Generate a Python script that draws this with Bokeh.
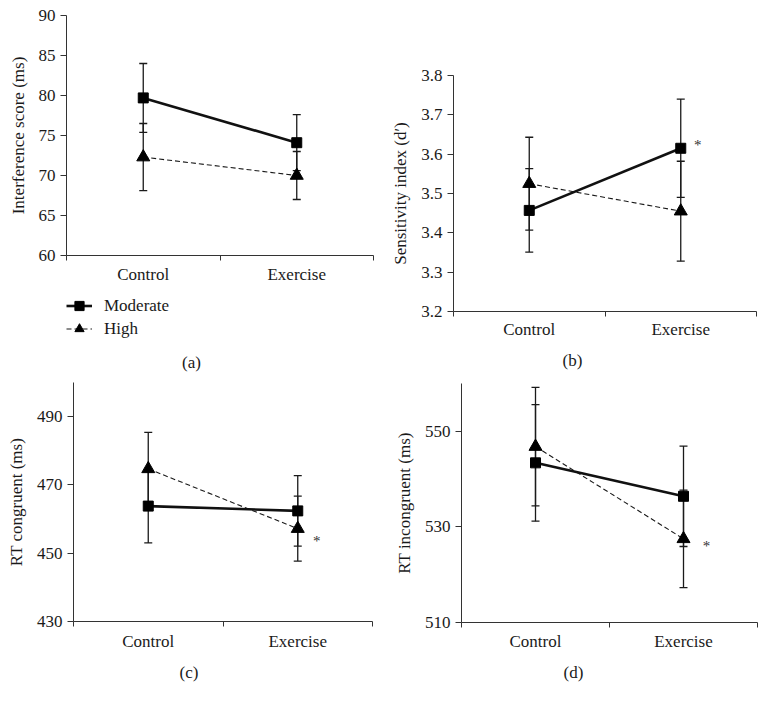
from bokeh.plotting import figure
from bokeh.layouts import row, column
from bokeh.models import (ColumnDataSource, Whisker, TeeHead, FixedTicker, Range1d,
                          Legend, LegendItem, Title, Label)
from bokeh.core.properties import value
from bokeh.embed import file_html
from bokeh.resources import INLINE

FONT = "Liberation Serif"
INK = "#1a1a1a"
NAN = float("nan")

categories = ["Control", "Exercise"]
series_names = ["Moderate", "High"]

# (a) Interference score (ms)
a_moderate = [79.7, 74.1]
a_moderate_err = [4.3, 3.5]
a_high = [72.3, 70.0]
a_high_err = [4.2, 3.0]
a_ticks = [60, 65, 70, 75, 80, 85, 90]

# (b) Sensitivity index (d')
b_moderate = [3.457, 3.615]
b_moderate_err = [0.106, 0.125]
b_high = [3.525, 3.455]
b_high_err = [0.118, 0.127]
b_ticks = [3.2, 3.3, 3.4, 3.5, 3.6, 3.7, 3.8]

# (c) RT congruent (ms)
c_moderate = [463.8, 462.4]
c_moderate_err = [10.8, 10.3]
c_high = [474.7, 457.2]
c_high_err = [10.7, 9.5]
c_ticks = [430, 450, 470, 490]

# (d) RT incongruent (ms)
d_moderate = [543.4, 536.4]
d_moderate_err = [12.2, 10.5]
d_high = [546.8, 527.5]
d_high_err = [12.4, 10.2]
d_ticks = [510, 530, 550]

MOD_STYLE = dict(line_color="#111111", line_width=2.6)
HIGH_STYLE = dict(line_color=INK, line_width=1.1, line_dash="5 3")


def make_panel(width, height, borders, yrange, yticks, ylabel, moderate, mod_err,
               high, high_err, caption=None, star=None, tick_fmt=None,
               caption_offset=0, caption_standoff=6, xlabel_standoff=5):
    left, right, top, bottom = borders
    p = figure(width=width, height=height, output_backend="svg", toolbar_location=None,
               x_range=Range1d(0, len(categories)), y_range=Range1d(*yrange),
               min_border_left=left, min_border_right=right, min_border_top=top,
               min_border_bottom=bottom)
    p.outline_line_color = None
    p.xgrid.visible = False
    p.ygrid.visible = False
    p.background_fill_color = "white"
    p.border_fill_color = "white"

    xs = [i + 0.5 for i in range(len(categories))]

    p.xaxis.ticker = FixedTicker(ticks=xs, minor_ticks=list(range(len(categories) + 1)))
    p.xaxis.major_label_overrides = {x: c for x, c in zip(xs, categories)}
    p.xaxis.major_tick_out = 0
    p.xaxis.major_tick_in = 0
    p.xaxis.minor_tick_out = 5
    p.xaxis.minor_tick_in = 0
    p.xaxis.major_label_standoff = xlabel_standoff
    p.yaxis.ticker = FixedTicker(ticks=yticks)
    if tick_fmt:
        p.yaxis.major_label_overrides = {t: tick_fmt.format(t) for t in yticks}
    p.yaxis.major_tick_out = 6
    p.yaxis.major_tick_in = 0
    p.yaxis.minor_tick_out = 0
    p.yaxis.major_label_standoff = 5
    p.yaxis.axis_label = ylabel
    p.yaxis.axis_label_standoff = 8
    for ax in (p.xaxis, p.yaxis):
        ax.axis_line_color = "#333333"
        ax.major_tick_line_color = "#333333"
        ax.minor_tick_line_color = "#333333"
        ax.major_label_text_font = FONT
        ax.major_label_text_font_size = "17px"
        ax.major_label_text_color = INK
        ax.axis_label_text_font = FONT
        ax.axis_label_text_font_size = "17px"
        ax.axis_label_text_font_style = "normal"
        ax.axis_label_text_color = INK

    src_m = ColumnDataSource(dict(x=xs, y=moderate,
                                  lo=[v - e for v, e in zip(moderate, mod_err)],
                                  hi=[v + e for v, e in zip(moderate, mod_err)]))
    src_h = ColumnDataSource(dict(x=xs, y=high,
                                  lo=[v - e for v, e in zip(high, high_err)],
                                  hi=[v + e for v, e in zip(high, high_err)]))
    for src in (src_m, src_h):
        w = Whisker(base="x", upper="hi", lower="lo", source=src,
                    line_color=INK, line_width=1.3,
                    upper_head=TeeHead(size=8, line_width=1.3, line_color=INK),
                    lower_head=TeeHead(size=8, line_width=1.3, line_color=INK))
        p.add_layout(w)

    p.line("x", "y", source=src_h, **HIGH_STYLE)
    p.scatter("x", "y", source=src_h, marker="triangle", size=13,
              fill_color="black", line_color="black")
    p.line("x", "y", source=src_m, **MOD_STYLE)
    p.scatter("x", "y", source=src_m, marker="square", size=10,
              fill_color="black", line_color="black")

    if star is not None:
        sx, sy, xo, yo = star
        p.text(x=[sx], y=[sy], text=["*"], x_offset=xo, y_offset=yo,
               text_font=value(FONT), text_font_size="15px", text_color="#333333",
               text_align="center", text_baseline="middle")

    if caption is not None:
        t = Title(text=caption, align="left", offset=caption_offset,
                  text_font=FONT, text_font_size="17px", text_font_style="normal",
                  text_color=INK, standoff=caption_standoff)
        p.add_layout(t, "below")
    return p


def make_legend_panel(width, height, legend_xy, caption, caption_xy):
    p = figure(width=width, height=height, output_backend="svg", toolbar_location=None,
               x_range=Range1d(0, 1), y_range=Range1d(0, 1),
               x_axis_location=None, y_axis_location=None, min_border=0)
    p.outline_line_color = None
    p.grid.visible = False
    p.background_fill_color = "white"
    p.border_fill_color = "white"
    # legend-only renderers (no visible data)
    lm = p.line(x=[NAN], y=[NAN], **MOD_STYLE)
    sm = p.scatter(x=[NAN], y=[NAN], marker="square", size=10, fill_color="black",
                   line_color="black")
    lh = p.line(x=[NAN], y=[NAN], **HIGH_STYLE)
    sh = p.scatter(x=[NAN], y=[NAN], marker="triangle", size=13, fill_color="black",
                   line_color="black")
    legend = Legend(items=[LegendItem(label=series_names[0], renderers=[lm, sm]),
                           LegendItem(label=series_names[1], renderers=[lh, sh])],
                    location=legend_xy, orientation="vertical",
                    border_line_color=None, background_fill_alpha=0,
                    padding=0, margin=0, spacing=0, glyph_width=26,
                    glyph_height=23, label_height=23, label_standoff=12,
                    label_text_font=FONT, label_text_font_size="17px",
                    label_text_color=INK)
    p.add_layout(legend)
    p.add_layout(Label(x=caption_xy[0], y=caption_xy[1], x_units="screen",
                       y_units="screen", text=caption, text_font=FONT,
                       text_font_size="17px", text_color=INK,
                       text_align="center", text_baseline="middle"))
    return p


pa = make_panel(380, 292, (66, 7, 15, 37), (60, 90), a_ticks, "Interference score (ms)",
                a_moderate, a_moderate_err, a_high, a_high_err, xlabel_standoff=4)
pl = make_legend_panel(380, 82, (66, 34), "(a)", (191, 12))
pb = make_panel(387, 378, (73, 11, 75, 67), (3.2, 3.8), b_ticks, "Sensitivity index (d\u2032)",
                b_moderate, b_moderate_err, b_high, b_high_err, "(b)",
                star=(1.5, b_moderate[1], 17, -3), tick_fmt="{:.1f}",
                caption_offset=109, caption_standoff=14, xlabel_standoff=3)
pc = make_panel(380, 331, (73, 8, 8, 84), (430, 500), c_ticks, "RT congruent (ms)",
                c_moderate, c_moderate_err, c_high, c_high_err, "(c)",
                star=(1.5, c_high[1], 19, 12), caption_offset=106,
                caption_standoff=14, xlabel_standoff=5)
pd = make_panel(387, 327, (81, 10, 5, 83), (510, 560), d_ticks, "RT incongruent (ms)",
                d_moderate, d_moderate_err, d_high, d_high_err, "(d)",
                star=(1.5, d_high[1], 23, 7), caption_offset=102,
                caption_standoff=15, xlabel_standoff=4)

left_col = column(row(pa), row(pl), row(pc), spacing=0)
right_col = column(row(pb), row(pd), spacing=0)
layout = row(left_col, right_col, spacing=0)

open("out.html", "w").write(file_html(layout, INLINE))
